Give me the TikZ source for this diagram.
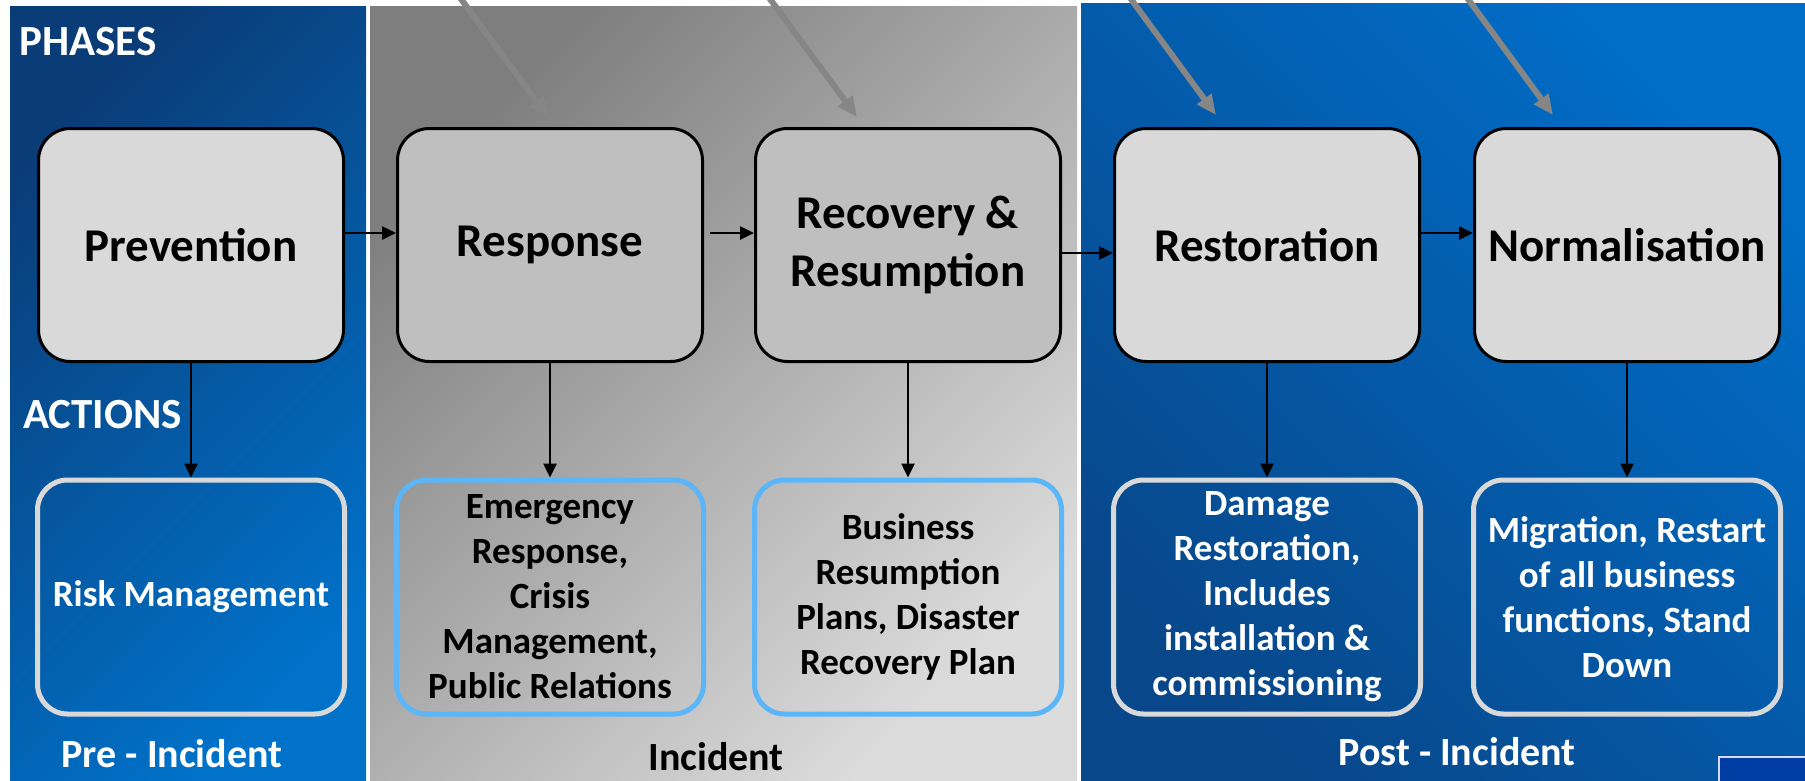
\documentclass[tikz,border=0pt]{standalone}
\usepackage{fontspec}
\setmainfont{Carlito}
\usetikzlibrary{arrows.meta}

\definecolor{predark}{HTML}{0A3C77}
\definecolor{prelight}{HTML}{0072CA}
\definecolor{incdark}{HTML}{7E7E7E}
\definecolor{inclight}{HTML}{DCDCDC}
\definecolor{postdark}{HTML}{08478A}
\definecolor{postlight}{HTML}{006DC7}
\definecolor{phasegray}{HTML}{D9D9D9}
\definecolor{phasemid}{HTML}{BFBFBF}
\definecolor{edgegray}{HTML}{D9D9D9}
\definecolor{edgeblue}{HTML}{5BB6F9}
\definecolor{feedgray}{HTML}{868686}

\tikzset{
  phasebox/.style={draw=black, line width=3pt, rounded corners=32pt, fill=phasegray,
    minimum width=305pt, minimum height=233pt, inner sep=2pt, align=center,
    font=\fontsize{47}{58}\selectfont\bfseries},
  actionbox/.style={line width=5pt, rounded corners=30pt,
    minimum width=307pt, minimum height=234pt, inner sep=2pt, align=center,
    font=\fontsize{37}{45}\selectfont\bfseries},
  title/.style={inner sep=0pt, text=white, font=\fontsize{40}{48}\selectfont\bfseries},
  flow/.style={-{Triangle[length=14pt,width=13pt]}, line width=2.5pt},
  feed/.style={-{Triangle[length=20pt,width=17pt]}, line width=6pt, draw=feedgray}
}

\begin{document}
\begin{tikzpicture}[x=1pt,y=-1pt]
    % Fix the page
    \useasboundingbox (0,0) rectangle (1805,780);
    \fill[white] (0,0) rectangle (1805,780);

    % Draw the three panels
    \shade[top color=predark, bottom color=prelight, shading angle=45] (10,6) rectangle (366,780);
    \shade[top color=incdark, bottom color=inclight, shading angle=45] (370,6) rectangle (1077,780);
    \shade[top color=postlight, bottom color=postdark, shading angle=-45] (1081,3) rectangle (1805,780);
    \fill[postlight!70!black!80!blue, draw=white!85!blue, line width=2pt] (1719,757) rectangle (1815,790);

    % Titles
    \node[title, anchor=base west, font=\fontsize{43}{50}\selectfont\bfseries] (phases) at (19,55) {PHASES};
    \node[title, anchor=base west, font=\fontsize{43}{50}\selectfont\bfseries] (actions) at (23,428) {ACTIONS};
    \node[title, anchor=base] (pre) at (172,767) {Pre - Incident};
    \node[title, anchor=base, text=black] (inc) at (716,770) {Incident};
    \node[title, anchor=base] (post) at (1457,765) {Post - Incident};

    % Phase boxes
    \node[phasebox] (prevention) at (191,245) {Prevention};
    \node[phasebox, fill=phasemid] (response) at (550,245) {Response};
    \node[phasebox, fill=phasemid] (recovery) at (908,245) {Recovery \&\\Resumption};
    \node[phasebox] (restoration) at (1267,245) {Restoration};
    \node[phasebox] (normalisation) at (1627,245) {Normalisation};

    % Action boxes
    \node[actionbox, draw=edgegray, text=white] (risk) at (191,597) {Risk Management};
    \node[actionbox, draw=edgeblue] (emergency) at (550,597)
      {Emergency\\Response,\\Crisis\\Management,\\Public Relations};
    \node[actionbox, draw=edgeblue] (business) at (908,597)
      {Business\\Resumption\\Plans, Disaster\\Recovery Plan};
    \node[actionbox, draw=edgegray, text=white] (damage) at (1267,597)
      {Damage\\Restoration,\\Includes\\installation \&\\commissioning};
    \node[actionbox, draw=edgegray, text=white] (migration) at (1627,597)
      {Migration, Restart\\of all business\\functions, Stand\\Down};

    % Arrows between phases
    \draw[flow] ([yshift=12pt]prevention.east) -- ([yshift=12pt]response.west);
    \draw[flow, shorten <=6pt] ([yshift=12pt]response.east) -- ([yshift=12pt]recovery.west);
    \draw[flow] ([yshift=-8pt]recovery.east) -- ([yshift=-8pt]restoration.west);
    \draw[flow] ([yshift=12pt]restoration.east) -- ([yshift=12pt]normalisation.west);

    % Arrows from phases to actions
    \draw[flow] (prevention) -- (risk);
    \draw[flow] (response) -- (emergency);
    \draw[flow] (recovery) -- (business);
    \draw[flow] (restoration) -- (damage);
    \draw[flow] (normalisation) -- (migration);

    % Grey arrows coming in from the top
    \coordinate (feedA) at (447,-20);
    \coordinate (feedB) at (756,-20);
    \coordinate (feedC) at (1117,-20);
    \coordinate (feedD) at (1454,-20);
    \coordinate (tipA) at (548,117);
    \coordinate (tipB) at (857,117);
    \coordinate (tipC) at (1216,115);
    \coordinate (tipD) at (1553,115);
    \begin{scope}
      \clip (0,0) rectangle (1805,780);
      \draw[feed] (feedA) -- (tipA);
      \draw[feed] (feedB) -- (tipB);
      \draw[feed] (feedC) -- (tipC);
      \draw[feed] (feedD) -- (tipD);
    \end{scope}
\end{tikzpicture}
\end{document}
